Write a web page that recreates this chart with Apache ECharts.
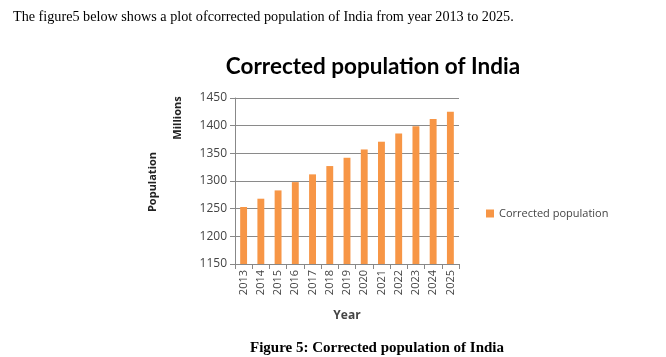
<!DOCTYPE html>
<html><head><meta charset="utf-8">
<script src="https://cdn.jsdelivr.net/npm/echarts@6/dist/echarts.min.js"></script>
<style>html,body{margin:0;padding:0;background:#fff}#c{width:666px;height:357px}</style>
</head><body><div id="c"></div>
<script>
var categories = ['2013','2014','2015','2016','2017','2018','2019','2020','2021','2022','2023','2024','2025'];
var correctedPopulation = [1253,1268,1283,1298,1312,1327,1342,1357,1371,1386,1399,1412,1425];
var seriesName = 'Corrected population';
var yMin = 1150, yMax = 1450, yStep = 50;

var chart = echarts.init(document.getElementById('c'));
chart.setOption({
  animation: false,
  title: [
    {text: 'The figure5 below shows a plot ofcorrected population of India from year 2013 to 2025.',
     left: 8, top: 5, textStyle: {fontFamily: 'Liberation Serif', fontSize: 14.2, fontWeight: 'normal', color: '#000'}},
    {text: 'Corrected population of India', left: 368, textAlign: 'center', top: 50,
     textStyle: {fontFamily: 'Lato', fontSize: 22.5, fontWeight: 'bold', color: '#000'}},
    {text: 'Figure 5: Corrected population of India', left: 372, textAlign: 'center', top: 336,
     textStyle: {fontFamily: 'Liberation Serif', fontSize: 15, fontWeight: 'bold', color: '#000'}}
  ],
  legend: {
    data: [seriesName], left: 481, top: 203, itemWidth: 8, itemHeight: 8, itemGap: 4,
    icon: 'rect', textStyle: {fontFamily: 'Open Sans', fontSize: 11, color: '#444'}
  },
  grid: {left: 235, right: 207, top: 98, bottom: 93, containLabel: false},
  xAxis: {
    type: 'category', data: categories, name: 'Year', nameLocation: 'middle', nameGap: 46,
    nameTextStyle: {fontFamily: 'Open Sans', fontSize: 12, fontWeight: 'bold', color: '#444'},
    axisLine: {lineStyle: {color: '#888'}},
    axisTick: {show: true, length: 5, lineStyle: {color: '#888'}},
    axisLabel: {rotate: 90, fontFamily: 'Open Sans', fontSize: 11, color: '#444', margin: 6}
  },
  yAxis: {
    type: 'value', min: yMin, max: yMax, interval: yStep,
    axisLine: {show: true, lineStyle: {color: '#888'}},
    axisTick: {show: true, length: 5, lineStyle: {color: '#888'}},
    axisLabel: {fontFamily: 'Open Sans', fontSize: 12, color: '#444', margin: 8, formatter: function (v) { return String(v); }},
    splitLine: {lineStyle: {color: '#8a8a8a', width: 1}}
  },
  graphic: [
    {type: 'text', x: 178, y: 118, rotation: Math.PI/2,
     style: {text: 'Millions', fontFamily: 'Open Sans', fontSize: 11, fontWeight: 'bold', fill: '#222', textAlign: 'center', textVerticalAlign: 'middle'}},
    {type: 'text', x: 153, y: 182, rotation: Math.PI/2,
     style: {text: 'Population', fontFamily: 'Open Sans', fontSize: 11, fontWeight: 'bold', fill: '#222', textAlign: 'center', textVerticalAlign: 'middle'}}
  ],
  series: [{
    name: seriesName, type: 'bar', data: correctedPopulation, barWidth: '40%',
    itemStyle: {color: '#F79646'}
  }]
});
</script></body></html>
